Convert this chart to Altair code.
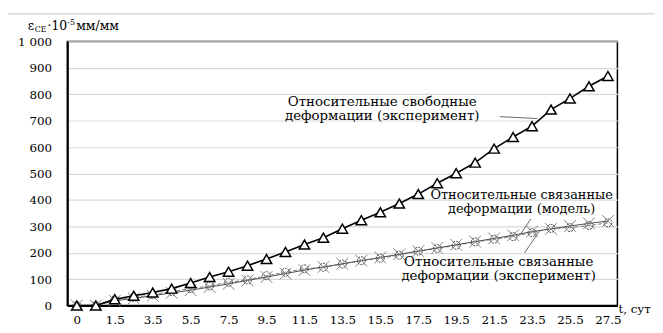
import json
import altair as alt
import pandas as pd

FONT = "DejaVu Serif"

t_labels = ["0", "0.5", "1.5", "2.5", "3.5", "4.5", "5.5", "6.5", "7.5", "8.5", "9.5",
            "10.5", "11.5", "12.5", "13.5", "14.5", "15.5", "16.5", "17.5", "18.5", "19.5",
            "20.5", "21.5", "22.5", "23.5", "24.5", "25.5", "26.5", "27.5"]
free_exp = [0, 0, 24, 37, 49, 64, 85, 108, 128, 151, 176, 203, 231, 257, 291, 323, 353,
            386, 422, 463, 501, 541, 594, 638, 679, 742, 784, 830, 869]
bound_model = [0, 0, 18, 27, 37, 48, 58, 70, 82, 95, 108, 121, 134, 146, 158, 170, 182,
               194, 206, 218, 230, 242, 254, 266, 280, 290, 301, 311, 320]
bound_exp = [0, 0, 22, 31, 41, 53, 64, 74, 88, 97, 113, 126, 139, 145, 157, 170, 179,
             191, 206, 216, 228, 241, 251, 261, 276, 292, 295, 303, 313]

ann_text = ["Относительные свободные", "деформации (эксперимент)",
            "Относительные связанные", "деформации (модель)",
            "Относительные связанные", "деформации (эксперимент)"]
ann_i = [16.1, 16.1, 23.45, 23.45, 22.24, 22.24]
ann_v = [770, 717, 420, 365, 165, 110]
ann_size = [13.5, 13.5, 13, 13, 13.5, 13.5]

lead_i = [22.3, 23.94, 24.38]
lead_v = [715, 328, 281]
lead_i2 = [24.28, 23.37, 23.6]
lead_v2 = [708, 268, 199]

df = pd.DataFrame({"i": list(range(len(t_labels))), "t": t_labels,
                   "free": free_exp, "model": bound_model, "exp": bound_exp})
ann = pd.DataFrame({"i": ann_i, "v": ann_v, "text": ann_text, "s": ann_size})
leads = pd.DataFrame({"i": lead_i, "v": lead_v, "i2": lead_i2, "v2": lead_v2})

xscale = alt.Scale(domain=[-0.5, len(t_labels) - 0.5], nice=False, zero=False)
yscale = alt.Scale(domain=[0, 1000], nice=False)

x_axis = alt.Axis(values=list(range(0, len(t_labels), 2)),
                  labelExpr=json.dumps(t_labels, ensure_ascii=False) + "[datum.value]",
                  labelOverlap=False,
                  grid=False, ticks=False, domainColor="black", domainWidth=2,
                  labelFont=FONT, labelFontSize=12, labelColor="black", labelPadding=9,
                  title=None)
y_axis = alt.Axis(values=list(range(0, 1001, 100)),
                  labelExpr="datum.value == 1000 ? '1 000' : datum.label",
                  labelOverlap=False,
                  grid=True, gridColor="#d9d9d9", gridWidth=1.2, ticks=False,
                  domainColor="black", domainWidth=2,
                  labelFont=FONT, labelFontSize=12, labelColor="black", labelPadding=16,
                  title=None)


def X(f="i"):
    return alt.X(f + ":Q", scale=xscale, axis=x_axis)


def Y(f):
    return alt.Y(f + ":Q", scale=yscale, axis=y_axis)


base = alt.Chart(df)

exp_line = base.mark_line(color="#7f7f7f", strokeWidth=1, strokeDash=[4, 2]).encode(
    x=X(), y=Y("exp"))
exp_pts = base.mark_point(shape="circle", size=64, filled=False, color="#404040",
                          strokeWidth=1, strokeDash=[2, 1], opacity=1).encode(
    x=X(), y=Y("exp"))
model_line = base.mark_line(color="#505050", strokeWidth=1).encode(x=X(), y=Y("model"))
model_pts = base.mark_point(shape="M-1,-1L1,1M-1,1L1,-1", size=140, filled=False,
                            color="#808080", strokeWidth=1, opacity=1).encode(
    x=X(), y=Y("model"))
free_line = base.mark_line(color="black", strokeWidth=1.6).encode(x=X(), y=Y("free"))
free_pts = base.mark_point(shape="triangle-up", size=110, filled=True, fill="white",
                           stroke="black", strokeWidth=1.5, opacity=1).encode(
    x=X(), y=Y("free"))

ann_marks = alt.Chart(ann).mark_text(font=FONT, color="black",
                                     align="center", baseline="middle").encode(
    x=X(), y=Y("v"), text="text:N",
    size=alt.Size("s:Q", scale=None, legend=None))
lead_marks = alt.Chart(leads).mark_rule(color="#404040", strokeWidth=0.8).encode(
    x=X(), y=Y("v"), x2="i2:Q", y2="v2:Q")

one = alt.Data(values=[{}])
frame = alt.Chart(one).mark_rect(filled=False, stroke="#d9d9d9", strokeWidth=1.5).encode(
    x=alt.value(-61), x2=alt.value(700), y=alt.value(-28), y2=alt.value(400))


def label(txt, x, y, size=12.5, base_="alphabetic"):
    return alt.Chart(one).mark_text(font=FONT, fontSize=size, color="black",
                                    align="left", baseline=base_).encode(
        x=alt.value(x), y=alt.value(y), text=alt.value(txt))


title_parts = [
    label("ε", -40, -12),
    label("CE", -33, -9, size=8),
    label("·10", -20, -12),
    label("-5", 0, -17, size=8),
    label("мм/мм", 9, -12),
    label("t, сут", 557, 275, size=12),
]

chart = alt.layer(exp_line, frame, model_line, model_pts, exp_pts, free_line, free_pts,
                  lead_marks, ann_marks, *title_parts).properties(
    width=556, height=267,
    autosize=alt.AutoSizeParams(type="none"),
    padding={"left": 60, "top": 32, "right": 38, "bottom": 25},
    background="white",
).configure_view(stroke="black", strokeWidth=1.5)

chart.save("out.html", embed_options={"renderer": "svg", "actions": False})
